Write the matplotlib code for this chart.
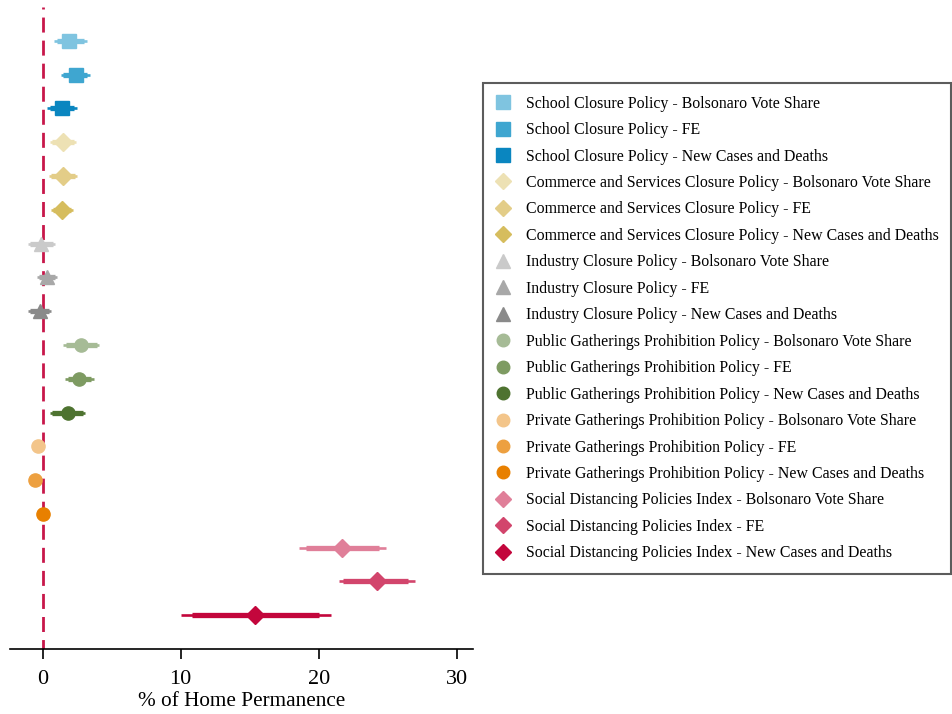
import matplotlib
matplotlib.use("Agg")
import matplotlib.pyplot as plt
from matplotlib.lines import Line2D

labels = [
    "School Closure Policy - Bolsonaro Vote Share",
    "School Closure Policy - FE",
    "School Closure Policy - New Cases and Deaths",
    "Commerce and Services Closure Policy - Bolsonaro Vote Share",
    "Commerce and Services Closure Policy - FE",
    "Commerce and Services Closure Policy - New Cases and Deaths",
    "Industry Closure Policy - Bolsonaro Vote Share",
    "Industry Closure Policy - FE",
    "Industry Closure Policy - New Cases and Deaths",
    "Public Gatherings Prohibition Policy - Bolsonaro Vote Share",
    "Public Gatherings Prohibition Policy - FE",
    "Public Gatherings Prohibition Policy - New Cases and Deaths",
    "Private Gatherings Prohibition Policy - Bolsonaro Vote Share",
    "Private Gatherings Prohibition Policy - FE",
    "Private Gatherings Prohibition Policy - New Cases and Deaths",
    "Social Distancing Policies Index - Bolsonaro Vote Share",
    "Social Distancing Policies Index - FE",
    "Social Distancing Policies Index - New Cases and Deaths",
]
estimates = [1.9, 2.4, 1.4, 1.45, 1.45, 1.4, -0.15, 0.3, -0.2, 2.8, 2.6, 1.85,
             -0.35, -0.55, 0.0, 21.7, 24.2, 15.4]
ci95_lo = [0.8, 1.3, 0.3, 0.5, 0.45, 0.6, -1.1, -0.4, -1.05, 1.5, 1.6, 0.5,
           -0.7, -0.9, -0.3, 18.55, 21.45, 10.0]
ci95_hi = [3.2, 3.4, 2.5, 2.4, 2.5, 2.2, 0.9, 1.05, 0.6, 4.1, 3.7, 3.1,
           0.0, -0.2, 0.3, 24.9, 26.95, 20.9]
ci90_lo = [1.0, 1.5, 0.5, 0.65, 0.6, 0.75, -0.9, -0.25, -0.9, 1.7, 1.8, 0.7,
           -0.6, -0.8, -0.25, 19.1, 21.8, 10.85]
ci90_hi = [3.0, 3.2, 2.3, 2.25, 2.35, 2.05, 0.75, 0.9, 0.45, 3.9, 3.5, 2.9,
           -0.1, -0.3, 0.25, 24.35, 26.5, 20.0]
colors = ["#7fc4e0", "#3fa6d0", "#0a86c0",
          "#ede1b4", "#e3cd88", "#d6bd5e",
          "#cacaca", "#a8a8a8", "#8a8a8a",
          "#a6bb96", "#7e9b62", "#4e7330",
          "#f3c58a", "#eda040", "#e88000",
          "#e07f99", "#d2456c", "#c3063c"]
markers = ["s"] * 3 + ["D"] * 3 + ["^"] * 3 + ["o"] * 3 + ["o"] * 3 + ["D"] * 3
msizes = [10, 10, 10, 9, 9, 9, 10, 10, 10, 9.5, 9.5, 9.5, 9.5, 9.5, 9.5, 9, 9, 9]
xticks = [0, 10, 20, 30]
xlabel = "% of Home Permanence"

plt.rcParams['font.family'] = ['Liberation Serif', 'DejaVu Serif']

fig = plt.figure(figsize=(9.53, 7.14), dpi=100)
ax = fig.add_axes([0.0105, 0.091, 0.486, 0.899])

ax.axvline(0, color="#c8174a", lw=2, ls=(2, (5.4, 2.9)), zorder=1)

handles = []
for i in range(len(labels)):
    y = i + 1
    c = colors[i]
    ax.plot([ci95_lo[i], ci95_hi[i]], [y, y], color=c, lw=1.9,
            solid_capstyle="butt", zorder=2)
    ax.plot([ci90_lo[i], ci90_hi[i]], [y, y], color=c, lw=3.8,
            solid_capstyle="butt", zorder=2)
    ax.plot([estimates[i]], [y], marker=markers[i], color=c, ms=msizes[i],
            mec=c, ls="none", zorder=3)
    handles.append(Line2D([], [], marker=markers[i], color=c, mec=c,
                          ls="none", ms=msizes[i] * 0.95))

ax.set_ylim(19, 0)
ax.set_xlim(-2.37, 31.2)
ax.set_xticks(xticks)
ax.set_xticklabels([str(t) for t in xticks])
ax.set_yticks([])
for s in ["left", "right", "top"]:
    ax.spines[s].set_visible(False)
ax.spines["bottom"].set_linewidth(1.2)
ax.tick_params(axis="x", direction="out", length=7, width=1.2, labelsize=16,
               pad=8)
ax.set_xlabel(xlabel, fontsize=15.3, labelpad=2)

leg = fig.legend(handles, labels, loc="upper left",
                 bbox_to_anchor=(483 / 953, 1 - 83 / 714),
                 frameon=True, fancybox=False, fontsize=11.4,
                 handletextpad=1.0, labelspacing=0.66, borderpad=0.8,
                 handlelength=0.9, borderaxespad=0)
leg.get_frame().set_edgecolor("#333333")
leg.get_frame().set_linewidth(1.5)

fig.savefig("out.png", dpi=100)
